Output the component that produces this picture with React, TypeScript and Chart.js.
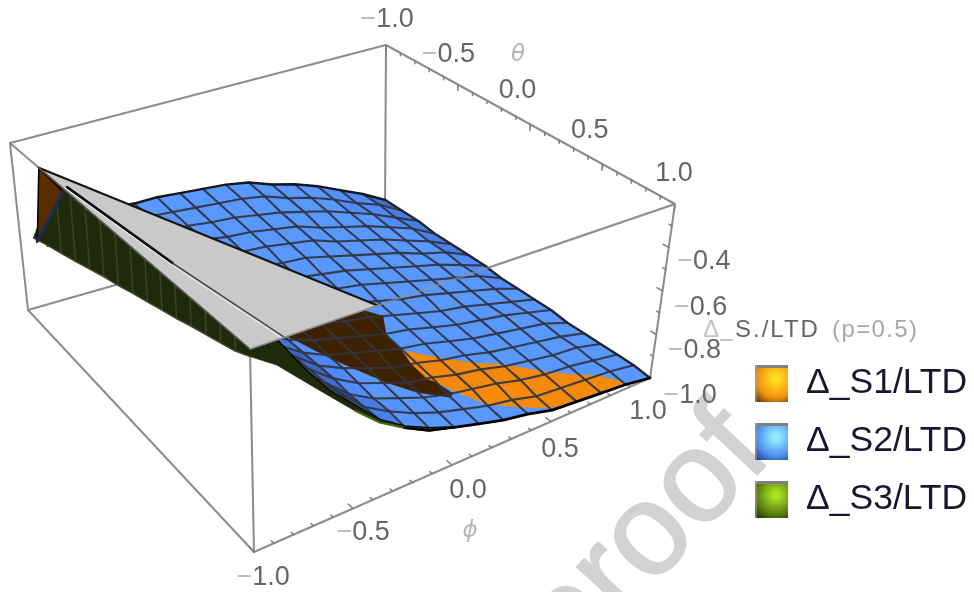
import React, { useEffect, useRef } from "react";
import { Chart, registerables } from "chart.js";

Chart.register(...registerables);

// ---------- axis values ----------
const PHI = [-1, -0.875, -0.75, -0.625, -0.5, -0.375, -0.25, -0.125, 0, 0.125, 0.25, 0.375, 0.5, 0.625, 0.75, 0.875, 1];
const THETA = [-1, -0.875, -0.75, -0.625, -0.5, -0.375, -0.25, -0.125, 0, 0.125, 0.25, 0.375, 0.5, 0.625, 0.75, 0.875, 1];
const Z_MIN = -1;
const Z_MAX = -0.2;
const PHI_TICK_LABELS = ["−1.0", "−0.5", "0.0", "0.5", "1.0"];
const THETA_TICK_LABELS = ["−1.0", "−0.5", "0.0", "0.5", "1.0"];
const PHI_TICK_VALUES = [-1, -0.5, 0, 0.5, 1];
const THETA_TICK_VALUES = [-1, -0.5, 0, 0.5, 1];
const Z_TICK_VALUES = [-0.4, -0.6, -0.8, -1];
const Z_TICK_LABELS = ["−0.4", "−0.6", "−0.8", "−1.0"];
const LEGEND_LABELS = ["Δ_S1/LTD", "Δ_S2/LTD", "Δ_S3/LTD"];

// ---------- S2 surface: one row per theta, one value per phi ----------
const S2_Z = [
  [-0.63, -0.63, -0.63, -0.63, -0.63, -0.64, -0.64, -0.65, -0.66, -0.67, -0.69, -0.73, -0.76, -0.8, -0.85, -0.9, -0.96],
  [-0.59, -0.6, -0.61, -0.62, -0.63, -0.64, -0.65, -0.66, -0.67, -0.68, -0.7, -0.74, -0.77, -0.81, -0.86, -0.9, -0.96],
  [-0.56, -0.58, -0.6, -0.61, -0.62, -0.645, -0.655, -0.67, -0.68, -0.7, -0.72, -0.75, -0.78, -0.82, -0.86, -0.91, -0.96],
  [-0.52, -0.55, -0.58, -0.6, -0.62, -0.65, -0.66, -0.68, -0.69, -0.71, -0.73, -0.77, -0.8, -0.83, -0.87, -0.91, -0.97],
  [-0.48, -0.52, -0.56, -0.59, -0.62, -0.65, -0.67, -0.69, -0.7, -0.72, -0.74, -0.78, -0.81, -0.84, -0.88, -0.92, -0.97],
  [-0.45, -0.5, -0.54, -0.58, -0.61, -0.65, -0.675, -0.7, -0.72, -0.73, -0.76, -0.79, -0.82, -0.85, -0.89, -0.92, -0.97],
  [-0.41, -0.47, -0.53, -0.57, -0.61, -0.66, -0.68, -0.71, -0.73, -0.75, -0.77, -0.8, -0.83, -0.86, -0.89, -0.93, -0.97],
  [-0.37, -0.44, -0.51, -0.56, -0.61, -0.66, -0.69, -0.72, -0.74, -0.76, -0.78, -0.81, -0.84, -0.87, -0.9, -0.93, -0.98],
  [-0.34, -0.41, -0.49, -0.56, -0.6, -0.66, -0.7, -0.73, -0.75, -0.77, -0.8, -0.83, -0.85, -0.88, -0.91, -0.94, -0.98],
  [-0.3, -0.39, -0.47, -0.55, -0.6, -0.66, -0.7, -0.73, -0.76, -0.78, -0.81, -0.84, -0.87, -0.89, -0.92, -0.95, -0.98],
  [-0.26, -0.36, -0.46, -0.54, -0.6, -0.67, -0.71, -0.74, -0.77, -0.8, -0.82, -0.85, -0.88, -0.9, -0.92, -0.95, -0.98],
  [-0.22, -0.33, -0.44, -0.53, -0.6, -0.67, -0.72, -0.75, -0.78, -0.81, -0.83, -0.86, -0.89, -0.91, -0.93, -0.95, -0.99],
  [-0.19, -0.3, -0.42, -0.52, -0.59, -0.67, -0.72, -0.76, -0.8, -0.82, -0.85, -0.87, -0.9, -0.92, -0.94, -0.96, -0.99],
  [-0.15, -0.28, -0.4, -0.51, -0.59, -0.67, -0.73, -0.77, -0.81, -0.83, -0.86, -0.88, -0.91, -0.93, -0.95, -0.96, -0.99],
  [-0.11, -0.26, -0.39, -0.5, -0.59, -0.68, -0.74, -0.78, -0.82, -0.85, -0.87, -0.89, -0.92, -0.94, -0.95, -0.97, -0.99],
  [-0.08, -0.23, -0.37, -0.49, -0.58, -0.68, -0.74, -0.79, -0.83, -0.86, -0.89, -0.91, -0.94, -0.95, -0.96, -0.97, -0.99],
  [-0.04, -0.2, -0.35, -0.48, -0.58, -0.68, -0.75, -0.8, -0.84, -0.87, -0.9, -0.92, -0.95, -0.96, -0.97, -0.98, -1],
];

// S1 top side: S1 minus S2, rows theta[10..16], columns phi[8..16]
const S1_ABOVE_S2 = [
  [-0.05, -0.065, -0.115, -0.16, -0.18, -0.235, -0.3, -0.385, -0.45],
  [-0.05, -0.0025, -0.0525, -0.0975, -0.1175, -0.1725, -0.24, -0.32, -0.39],
  [-0.05, 0.0125, 0.01, -0.035, -0.055, -0.11, -0.18, -0.26, -0.33],
  [-0.05, 0.0125, 0.0725, 0.0275, 0.0075, -0.0475, -0.1175, -0.1975, -0.27],
  [-0.05, -0.035, 0.055, 0.09, 0.07, 0.015, -0.055, -0.135, -0.21],
  [-0.05, -0.0975, -0.0075, 0.0325, 0.0475, 0.0575, 0.03, -0.03, -0.15],
  [-0.05, -0.16, -0.07, -0.03, -0.01, 0.003, 0.012, 0.006, -0.08],
];
// S1 underside: rows theta[8..16], columns phi[3..11]
const S1_UNDERSIDE = [
  [-0.03, -0.03, -0.03, -0.03, -0.03, -0.03, -0.03, -0.03, -0.09],
  [-0.0825, -0.02, 0.0325, 0.0325, 0.0325, 0.0325, 0.0325, -0.025, -0.0875],
  [-0.14, -0.08, -0.0175, 0.045, 0.095, 0.065, 0.0025, -0.06, -0.12],
  [-0.18, -0.115, -0.05, 0.01, 0.07, 0.06, -0.0025, -0.065, -0.13],
  [-0.21, -0.15, -0.09, -0.025, 0.0375, 0.05, -0.0125, -0.075, -0.14],
  [-0.26, -0.2, -0.14, -0.075, -0.0125, 0.05, -0.0075, -0.07, -0.13],
  [-0.34, -0.275, -0.21, -0.15, -0.09, -0.025, 0.0125, -0.05, -0.11],
  [-0.42, -0.36, -0.3, -0.235, -0.17, -0.11, -0.05, -0.005, -0.07],
  [-0.5, -0.45, -0.4, -0.33, -0.27, -0.2, -0.14, -0.1, -0.1],
];

// S3: lower rim on the phi=-1 side (one per theta), lower rim on the theta=1 side (phi[0..8])
const S3_RIM_PHI_MINUS = [-0.64, -0.588, -0.557, -0.531, -0.505, -0.478, -0.451, -0.43, -0.405, -0.384, -0.362, -0.342, -0.319, -0.299, -0.28, -0.26, -0.23];
const S3_RIM_THETA_ONE = [-0.23, -0.3, -0.4, -0.5, -0.6, -0.69, -0.755, -0.81, -0.84];

// Clipped cap at the top of the box
const CAP_PHI = [-1, -1, -0.4];
const CAP_THETA = [-0.76, 1, 1];
const CAP_LINE_PHI = [-0.978, -0.918, -0.838];
const CAP_LINE_THETA = [-0.56, 0.216, 1];

// Sliver of S1 at the far corner
const SLIVER_THETA = [-0.76, -0.56, -0.84];
const SLIVER_Z = [-0.2, -0.216, -0.584];

// ---------- projection of the 3D box onto the page ----------
const FLOOR = { a: [28, 310], b: [385, 208], c: [650, 378], d: [254, 552] };
const TOP = { a: [10, 143], b: [386, 45], c: [675, 204], d: [250, 349] };

type P = { x: number; y: number };
function project(phi: number, theta: number, zv: number): P {
  const a = (phi + 1) / 2;
  const b = (theta + 1) / 2;
  const c = (Math.min(zv, Z_MAX) - Z_MIN) / (Z_MAX - Z_MIN);
  const mix = (q: { a: number[]; b: number[]; c: number[]; d: number[] }, i: number) =>
    (1 - a) * (1 - b) * q.a[i] + a * (1 - b) * q.b[i] + a * b * q.c[i] + (1 - a) * b * q.d[i];
  return {
    x: mix(FLOOR, 0) + (mix(TOP, 0) - mix(FLOOR, 0)) * c,
    y: mix(FLOOR, 1) + (mix(TOP, 1) - mix(FLOOR, 1)) * c,
  };
}

function line(points: P[], color: string, width: number) {
  return { data: points, showLine: true, pointRadius: 0, borderColor: color, borderWidth: width, fill: false, tension: 0, borderJoinStyle: "round", borderCapStyle: "round" };
}
function poly(points: P[], color: string, edge = color, width = 0.7) {
  return { data: [...points, points[0]], showLine: true, pointRadius: 0, backgroundColor: color, borderColor: edge, borderWidth: width, fill: "shape", tension: 0 };
}

type N = { p: number; t: number; z: number; f: number };
function clipCell(nodes: N[]): N[] {
  const out: N[] = [];
  for (let i = 0; i < nodes.length; i++) {
    const u = nodes[i];
    const v = nodes[(i + 1) % nodes.length];
    if (u.f >= 0) out.push(u);
    if (u.f >= 0 !== v.f >= 0) {
      const s = u.f / (u.f - v.f);
      out.push({ p: u.p + (v.p - u.p) * s, t: u.t + (v.t - u.t) * s, z: u.z + (v.z - u.z) * s, f: 0 });
    }
  }
  return out;
}

function patchFromField(field: number[][], rowStart: number, colStart: number, color: string) {
  const sets: any[] = [];
  for (let r = 0; r < field.length - 1; r++) {
    for (let c = 0; c < field[0].length - 1; c++) {
      const k = rowStart + r;
      const j = colStart + c;
      const nodes: N[] = [
        { p: PHI[j], t: THETA[k], z: S2_Z[k][j], f: field[r][c] },
        { p: PHI[j + 1], t: THETA[k], z: S2_Z[k][j + 1], f: field[r][c + 1] },
        { p: PHI[j + 1], t: THETA[k + 1], z: S2_Z[k + 1][j + 1], f: field[r + 1][c + 1] },
        { p: PHI[j], t: THETA[k + 1], z: S2_Z[k + 1][j], f: field[r + 1][c] },
      ];
      const kept = clipCell(nodes);
      if (kept.length >= 3) sets.push(poly(kept.map((n) => project(n.p, n.t, n.z)), color));
    }
  }
  return sets;
}

function area(q: P[]) {
  let s = 0;
  q.forEach((u, i) => {
    const v = q[(i + 1) % q.length];
    s += u.x * v.y - v.x * u.y;
  });
  return Math.abs(s) / 2;
}

function buildDatasets() {
  const sets: any[] = [];
  const box = "#8c8c8c";
  const seg = (p1: number, t1: number, z1: number, p2: number, t2: number, z2: number, color = box, w = 2) =>
    line([project(p1, t1, z1), project(p2, t2, z2)], color, w);

  // back of the box
  sets.push(seg(1, -1, Z_MAX, 1, -1, Z_MIN));
  sets.push(seg(-1, -1, Z_MIN, 1, -1, Z_MIN));
  sets.push(seg(-1, -1, Z_MAX, 1, -1, Z_MAX));
  sets.push(seg(1, -1, Z_MAX, 1, 1, Z_MAX));
  sets.push(seg(1, 1, Z_MAX, 1, 1, Z_MIN));
  sets.push(seg(-1, -1, Z_MAX, -1, -1, Z_MIN));
  sets.push(seg(-1, -1, Z_MIN, -1, 1, Z_MIN));
  sets.push(seg(-1, 1, Z_MIN, 1, 1, Z_MIN));
  sets.push(seg(-1, 1, Z_MAX, -1, 1, Z_MIN));
  sets.push(seg(-1, -1, Z_MAX, -1, 1, Z_MAX));
  sets.push(seg(-1, 1, Z_MAX, 1, 1, Z_MAX));

  // ticks
  for (let v = -10; v <= 10; v++) {
    const val = v / 10;
    const major = v % 5 === 0;
    sets.push(seg(val, 1, Z_MIN, val, major ? 0.96 : 0.98, Z_MIN, "#808080", 1.5));
    sets.push(seg(1, val, Z_MAX, 1, val, Z_MAX - (major ? 0.028 : 0.014), "#808080", 1.5));
  }
  for (let v = 0; v <= 8; v++) {
    const val = -1 + v * 0.1;
    sets.push(seg(1, 1, val, 1, v % 2 === 0 ? 0.96 : 0.98, val, "#808080", 1.5));
  }

  // S2 cells
  for (let k = 0; k < THETA.length - 1; k++) {
    for (let j = 0; j < PHI.length - 1; j++) {
      if (k < 2 && j < 3) continue;
      const q = [
        project(PHI[j], THETA[k], S2_Z[k][j]),
        project(PHI[j + 1], THETA[k], S2_Z[k][j + 1]),
        project(PHI[j + 1], THETA[k + 1], S2_Z[k + 1][j + 1]),
        project(PHI[j], THETA[k + 1], S2_Z[k + 1][j]),
      ];
      const fl = [
        project(PHI[j], THETA[k], Z_MIN),
        project(PHI[j + 1], THETA[k], Z_MIN),
        project(PHI[j + 1], THETA[k + 1], Z_MIN),
        project(PHI[j], THETA[k + 1], Z_MIN),
      ];
      const s = Math.min(1, 0.38 + 0.85 * (area(q) / area(fl)));
      const col = `rgb(${Math.round(88 * s)},${Math.round(152 * s)},${Math.round(255 * Math.min(1, s + 0.08))})`;
      sets.push(poly(q, col));
    }
  }
  sets.push(...patchFromField(S1_UNDERSIDE, 8, 3, "#3e2200"));
  sets.push(...patchFromField(S1_ABOVE_S2, 10, 8, "#f5890c"));

  // mesh
  const mesh = "rgba(50,52,64,0.92)";
  THETA.forEach((t, k) => {
    if (k === 0 || k === THETA.length - 1) return;
    sets.push(line(PHI.map((p, j) => project(p, t, S2_Z[k][j])).slice(k < 2 ? 3 : 0), mesh, 2.1));
  });
  PHI.forEach((p, j) => {
    if (j === 0 || j === PHI.length - 1) return;
    sets.push(line(THETA.map((t, k) => project(p, t, S2_Z[k][j])).slice(j < 3 ? 2 : 0), mesh, 2.1));
  });
  // rims of S2
  sets.push(line(PHI.map((p, j) => project(p, -1, S2_Z[0][j])).slice(3), "#15181f", 2.4));
  sets.push(line(THETA.map((t, k) => project(1, t, S2_Z[k][16])), "#22252c", 2.4));
  sets.push(line(PHI.map((p, j) => project(p, 1, S2_Z[16][j])), "#000000", 2.8));

  // S3 rim strip on the theta=1 side
  const stripPhi = PHI.slice(0, S3_RIM_THETA_ONE.length);
  const upper = stripPhi.map((p, j) => project(p, 1, S2_Z[16][j]));
  const lower = stripPhi.map((p, j) => project(p, 1, S3_RIM_THETA_ONE[j]));
  sets.push(poly([...upper, ...lower.slice().reverse()], "#1f2a0a"));
  sets.push(line(lower.slice(4), "#4c6a10", 2));
  sets.push(line(lower.slice(6), "#000000", 2.4));

  // S3 underside wall on the phi=-1 side
  const wallK = THETA.map((_, k) => k).filter((k) => k >= 1);
  const wallLow = wallK.map((k) => project(-1, THETA[k], S3_RIM_PHI_MINUS[k]));
  const wallTop = wallK.filter((k) => k >= 3).map((k) => project(-1, THETA[k], Z_MAX));
  sets.push(poly([...wallLow, ...wallTop.reverse()], "#1f2a0a"));
  wallK.forEach((k) => {
    if (k < 3 || k === 16) return;
    sets.push(line([project(-1, THETA[k], Z_MAX), project(-1, THETA[k], S3_RIM_PHI_MINUS[k])], "rgba(96,96,86,0.42)", 1.6));
  });
  sets.push(line(wallLow, "#4c5034", 1.2));

  // sliver at far corner
  const sliver = SLIVER_THETA.map((t, i) => project(-1, t, SLIVER_Z[i]));
  sets.push(poly(sliver, "#5a2d00", "#000000", 1.5));
  sets.push(line([sliver[1], sliver[2]], "#1b2b52", 3.4));

  // cap
  const cap = CAP_PHI.map((p, i) => project(p, CAP_THETA[i], Z_MAX));
  sets.push(poly(cap, "#c9c9c9"));
  sets.push(line([cap[0], cap[2]], "#141414", 2.2));
  sets.push(line([cap[0], cap[1]], "#555555", 1.6));
  const capLine = CAP_LINE_PHI.map((p, i) => project(p, CAP_LINE_THETA[i], Z_MAX));
  const offset = CAP_LINE_PHI.map((p, i) => project(p - 0.012, CAP_LINE_THETA[i], Z_MAX));
  sets.push(line(capLine.slice(0, 2), "#0d0d0d", 2.6));
  sets.push(line(capLine.slice(1), "#3a3a3a", 1.4));
  sets.push(line(offset, "#f0f0f0", 1));

  // front edge passing over the surface
  sets.push(seg(-0.4, 1, Z_MAX, 1, 1, Z_MAX, "rgba(150,150,150,0.6)", 2));
  sets.push(seg(-1, 1, Z_MAX, -0.4, 1, Z_MAX, "#8c8c8c", 1.6));

  return sets.reverse();
}

const labelPlugin = {
  id: "labels3d",
  beforeDatasetsDraw(chart: any) {
    const ctx = chart.ctx;
    ctx.save();
    ctx.translate(572, 673);
    ctx.rotate((-47 * Math.PI) / 180);
    ctx.font = '130px "Liberation Sans"';
    ctx.fillStyle = "#d2d2d2";
    ctx.strokeStyle = "#d2d2d2";
    ctx.lineWidth = 2;
    ctx.textAlign = "left";
    ctx.textBaseline = "alphabetic";
    ctx.fillText("proof", 0, 0);
    ctx.strokeText("proof", 0, 0);
    ctx.restore();
  },
  afterDatasetsDraw(chart: any) {
    const ctx = chart.ctx;
    ctx.save();
    ctx.textBaseline = "middle";
    ctx.textAlign = "center";
    ctx.font = '27px "Liberation Sans"';
    const text = (s: string, x: number, y: number) => {
      if (s[0] === "−") {
        const w = ctx.measureText(s.slice(1)).width;
        const mw = ctx.measureText("−").width;
        ctx.fillStyle = "#bdbdbd";
        ctx.fillText("−", x - w / 2 - mw / 2 + 6, y);
        ctx.fillStyle = "#666666";
        ctx.fillText(s.slice(1), x + 6, y);
      } else {
        ctx.fillStyle = "#666666";
        ctx.fillText(s, x, y);
      }
    };
    const phiOff = [[11, 26], [12, 24], [16, 26], [9, 28], [-2, 34]];
    PHI_TICK_VALUES.forEach((v, i) => {
      const p = project(v, 1, Z_MIN);
      text(PHI_TICK_LABELS[i], p.x + phiOff[i][0], p.y + phiOff[i][1]);
    });
    const thetaOff = [[3, -25], [-8, -30], [-13, -34], [-13, -34], [-1, -30]];
    THETA_TICK_VALUES.forEach((v, i) => {
      const p = project(1, v, Z_MAX);
      text(THETA_TICK_LABELS[i], p.x + thetaOff[i][0], p.y + thetaOff[i][1]);
    });
    const zOff = [[37, 14], [40, 17], [40, 16], [42, 18]];
    Z_TICK_VALUES.forEach((v, i) => {
      const p = project(1, 1, v);
      text(Z_TICK_LABELS[i], p.x + zOff[i][0], p.y + zOff[i][1]);
    });
    // axis names
    ctx.font = 'italic 23px "DejaVu Sans"';
    ctx.fillStyle = "#b5b5b5";
    ctx.fillText("ϕ", 470, 531);
    ctx.fillText("θ", 518, 55);
    // z axis title
    ctx.textAlign = "left";
    ctx.textBaseline = "alphabetic";
    ctx.font = '24px "Liberation Sans"';
    ctx.fillStyle = "#c4c4c4";
    ctx.fillText("Δ", 703, 337);
    ctx.fillRect(720, 339, 13, 2);
    (ctx as any).letterSpacing = "2px";
    ctx.fillStyle = "#666666";
    ctx.fillText("S./LTD", 735, 337);
    (ctx as any).letterSpacing = "1.4px";
    ctx.fillStyle = "#a8a8a8";
    ctx.fillText("(p=0.5)", 832, 337);
    (ctx as any).letterSpacing = "0px";

    // legend
    const swatches = [
      { y: 365, hi: "#ffdc20", mid: "#f29010", lo: "#3a2000" },
      { y: 423, hi: "#90eaff", mid: "#5090f0", lo: "#102a5a" },
      { y: 481, hi: "#a8e422", mid: "#5a8010", lo: "#142000" },
    ];
    swatches.forEach((s, i) => {
      const x = 755;
      const w = 33;
      const h = 37;
      const g = ctx.createRadialGradient(x + 21, s.y + 14, 3, x + 21, s.y + 14, 32);
      g.addColorStop(0, s.hi);
      g.addColorStop(0.55, s.mid);
      g.addColorStop(1, s.lo);
      ctx.fillStyle = g;
      ctx.fillRect(x, s.y, w, h);
      ctx.fillStyle = "#808080";
      ctx.fillRect(x, s.y, w, 3);
      ctx.fillStyle = "rgba(170,170,170,0.55)";
      ctx.fillRect(x, s.y, 2, h);
      ctx.font = '35.5px "Liberation Sans"';
      ctx.fillStyle = "#1c1430";
      ctx.fillText(LEGEND_LABELS[i], 806, s.y + 28);
    });
    ctx.restore();
  },
};

export default function App() {
  const ref = useRef<HTMLCanvasElement>(null);
  useEffect(() => {
    if (!ref.current) return;
    const chart = new Chart(ref.current, {
      type: "scatter",
      data: { datasets: buildDatasets() as any },
      options: {
        animation: false,
        responsive: false,
        maintainAspectRatio: false,
        events: [],
        layout: { padding: 0 },
        plugins: { legend: { display: false }, tooltip: { enabled: false } },
        scales: {
          x: { type: "linear", display: false, min: 0, max: 974 },
          y: { type: "linear", display: false, min: 0, max: 592, reverse: true },
        },
      },
      plugins: [labelPlugin as any],
    });
    return () => chart.destroy();
  }, []);
  return (
    <div style={{ position: "fixed", left: 0, top: 0, width: 974, height: 592, background: "#fff" }}>
      <canvas ref={ref} width={974} height={592} style={{ display: "block" }} />
    </div>
  );
}
